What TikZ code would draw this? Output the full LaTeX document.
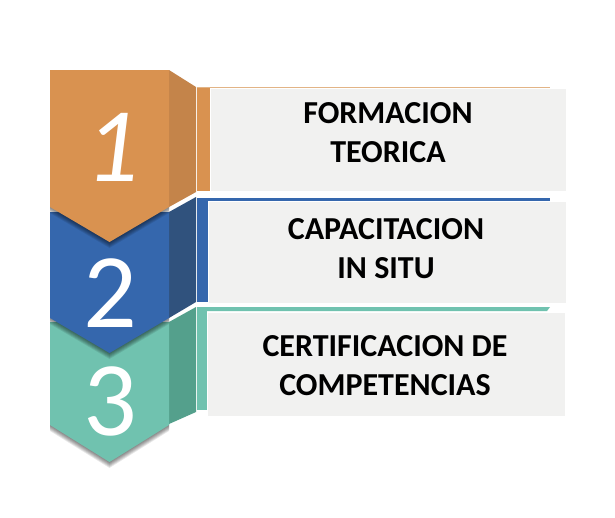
\documentclass[tikz,border=0pt]{standalone}
\usepackage{fontspec}
\setmainfont{Carlito}
\definecolor{orF}{RGB}{217,146,80}
\definecolor{orS}{RGB}{196,132,74}
\definecolor{orL}{RGB}{226,180,134}
\definecolor{blF}{RGB}{53,103,173}
\definecolor{blS}{RGB}{48,82,125}
\definecolor{teF}{RGB}{112,194,175}
\definecolor{teS}{RGB}{84,160,140}
\definecolor{pnl}{RGB}{241,241,240}
\tikzset{
  panel/.style={fill=pnl, draw=white, line width=0.8pt},
  lbl/.style={font=\bfseries\fontsize{32}{39}\selectfont, align=center, anchor=base, inner sep=0pt},
  num/.style={font=\fontsize{106}{106}\selectfont, text=white, anchor=base, inner sep=0pt},
  shad/.style={fill=black, opacity=0.09}
}
\begin{document}
\begin{tikzpicture}[x=1pt,y=-1pt]
\useasboundingbox (0,0) rectangle (615,517);
\fill[white] (0,0) rectangle (615,517);
% ---------- badge 3 (teal) ----------
\fill[teF] (197,307) rectangle (207,410);
\fill[teF] (197,307) -- (550,307) -- (547,311) -- (197,311) -- cycle;
\node[panel, minimum width=358pt, minimum height=104pt, anchor=north west, inner sep=0pt] (p3) at (207,312) {};
\foreach \k in {1,...,6} {
  \fill[shad] (50,322+\k) -- (169,322+\k) -- (169,425+\k) -- (109.5,462+\k) -- (50,425+\k) -- cycle;
}
\fill[teS] (169,322) -- (196,307) -- (196,412) -- (169,424) -- cycle;
\fill[teF] (50,322) -- (169,322) -- (169,425) -- (109.5,462) -- (50,425) -- cycle;
\node[num] (n3) at (110,435) {3};
% ---------- badge 2 (blue) ----------
\fill[blF] (197,198) rectangle (208,302);
\fill[blF] (197,197.5) rectangle (550,200.5);
\node[panel, minimum width=358pt, minimum height=102pt, anchor=north west, inner sep=0pt] (p2) at (208,201) {};
\foreach \k in {1,...,6} {
  \fill[shad] (50,212+\k) -- (169,212+\k) -- (169,318+\k) -- (109.5,353+\k) -- (50,318+\k) -- cycle;
}
\fill[blS] (169,212) -- (196,197) -- (196,302) -- (169,318) -- cycle;
\fill[blF] (50,212) -- (169,212) -- (169,318) -- (109.5,353) -- (50,318) -- cycle;
\node[num] (n2) at (110,327) {2};
% ---------- badge 1 (orange) ----------
\fill[orF] (197,87) rectangle (210,191);
\fill[orL] (197,86.5) rectangle (550,88);
\node[panel, minimum width=356pt, minimum height=103pt, anchor=north west, inner sep=0pt] (p1) at (210,88) {};
\foreach \k in {1,...,6} {
  \fill[shad] (50,70+\k) -- (169,70+\k) -- (169,207+\k) -- (109.5,242+\k) -- (50,207+\k) -- cycle;
}
\fill[orS] (169,70) -- (196,87) -- (196,192) -- (169,207) -- cycle;
\fill[orF] (50,70) -- (169,70) -- (169,207) -- (109.5,242) -- (50,207) -- cycle;
\node[num, font=\itshape\fontsize{106}{106}\selectfont] (n1) at (112,181) {1};
% ---------- labels ----------
\node[lbl] (t1) at (388,162) {FORMACION\\TEORICA};
\node[lbl] (t2) at (386,278) {CAPACITACION\\IN SITU};
\node[lbl] (t3) at (385,395) {CERTIFICACION DE\\COMPETENCIAS};
\end{tikzpicture}
\end{document}
